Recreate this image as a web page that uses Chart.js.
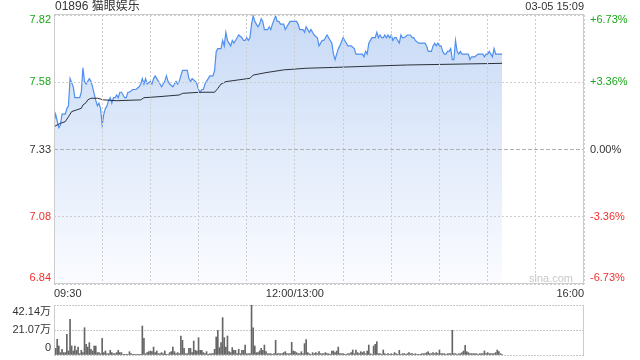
<!DOCTYPE html>
<html>
<head>
<meta charset="utf-8">
<script src="https://cdn.jsdelivr.net/npm/chart.js@4.4.1/dist/chart.umd.min.js"></script>
<style>
  html, body { margin: 0; padding: 0; background: #fff; }
  #wrap { position: relative; width: 640px; height: 360px; }
  #price { position: absolute; left: 0; top: 0; }
  #vol { position: absolute; left: 0; top: 300px; }
</style>
</head>
<body>
<div id="wrap">
  <canvas id="price" width="640" height="300"></canvas>
  <canvas id="vol" width="640" height="60"></canvas>
</div>
<script>
// 01896 intraday, 03-05 — minute chart + volume
const stockTitle = '01896 猫眼娱乐';
const stamp = '03-05 15:09';
const prevClose = 7.33;
const pctTicks = [6.73, 3.36, 0, -3.36, -6.73];
const timeLabels = { 0: '09:30', 150: '12:00/13:00', 330: '16:00' };
const volTicks = [0, 21.07, 42.14];

// minutes since 09:30 (lunch removed) and last price
const minutes = [
  0, 1, 3, 4, 5, 7, 8, 9, 10, 12,
  13, 14, 16, 17, 18, 19, 20, 21, 22, 23,
  24, 26, 27, 28, 29, 30, 31, 32, 33, 34,
  35, 36, 37, 38, 39, 40, 41, 42, 44, 45,
  46, 47, 49, 51, 53, 54, 55, 56, 57, 58,
  60, 61, 62, 63, 64, 65, 66, 67, 68, 69,
  70, 71, 72, 74, 75, 76, 77, 78, 80, 82,
  83, 84, 85, 86, 88, 89, 90, 91, 92, 93,
  94, 95, 97, 99, 100, 101, 102, 104, 105, 106,
  107, 108, 110, 111, 112, 113, 114, 115, 117, 118,
  119, 120, 121, 122, 123, 124, 125, 126, 127, 128,
  129, 130, 131, 133, 134, 135, 136, 138, 139, 140,
  141, 142, 143, 144, 145, 146, 147, 149, 151, 152,
  153, 154, 155, 156, 157, 158, 159, 160, 161, 162,
  164, 165, 166, 167, 168, 169, 170, 171, 172, 173,
  174, 175, 176, 177, 178, 180, 181, 183, 185, 187,
  188, 190, 191, 192, 193, 194, 195, 196, 198, 200,
  201, 202, 203, 204, 205, 206, 207, 208, 209, 210,
  211, 212, 213, 214, 215, 216, 217, 218, 220, 222,
  223, 224, 225, 227, 229, 231, 232, 233, 235, 236,
  237, 238, 239, 240, 241, 242, 243, 244, 245, 246,
  247, 248, 249, 250, 251, 252, 253, 254, 255, 257,
  258, 259, 260, 262, 264, 266, 267, 268, 269, 270,
  271, 272, 273, 274, 275, 276, 279
];
const price = [
  7.43, 7.46, 7.41, 7.42, 7.46, 7.46, 7.48, 7.49, 7.59, 7.56,
  7.52, 7.52, 7.52, 7.54, 7.63, 7.58, 7.57, 7.58, 7.59, 7.58,
  7.56, 7.51, 7.49, 7.50, 7.48, 7.42, 7.46, 7.48, 7.49, 7.51,
  7.52, 7.50, 7.52, 7.52, 7.53, 7.52, 7.54, 7.54, 7.52, 7.52,
  7.54, 7.54, 7.55, 7.55, 7.56, 7.57, 7.59, 7.57, 7.59, 7.57,
  7.58, 7.57, 7.59, 7.60, 7.59, 7.58, 7.57, 7.56, 7.57, 7.58,
  7.60, 7.58, 7.57, 7.56, 7.57, 7.58, 7.57, 7.58, 7.62, 7.62,
  7.62, 7.59, 7.58, 7.59, 7.58, 7.57, 7.55, 7.54, 7.55, 7.55,
  7.57, 7.58, 7.60, 7.60, 7.62, 7.69, 7.70, 7.70, 7.73, 7.71,
  7.76, 7.73, 7.71, 7.73, 7.72, 7.73, 7.74, 7.75, 7.74, 7.73,
  7.73, 7.74, 7.73, 7.74, 7.79, 7.82, 7.80, 7.79, 7.78, 7.79,
  7.81, 7.80, 7.77, 7.77, 7.78, 7.77, 7.79, 7.82, 7.80, 7.80,
  7.79, 7.79, 7.79, 7.77, 7.78, 7.79, 7.80, 7.80, 7.80, 7.79,
  7.77, 7.77, 7.77, 7.76, 7.78, 7.77, 7.76, 7.77, 7.76, 7.75,
  7.74, 7.71, 7.72, 7.73, 7.73, 7.74, 7.75, 7.74, 7.73, 7.72,
  7.68, 7.66, 7.68, 7.70, 7.71, 7.74, 7.73, 7.71, 7.71, 7.70,
  7.68, 7.68, 7.68, 7.68, 7.67, 7.69, 7.68, 7.72, 7.74, 7.74,
  7.76, 7.74, 7.75, 7.74, 7.74, 7.75, 7.74, 7.75, 7.74, 7.75,
  7.73, 7.74, 7.74, 7.73, 7.72, 7.75, 7.74, 7.74, 7.75, 7.75,
  7.74, 7.74, 7.73, 7.72, 7.72, 7.72, 7.71, 7.69, 7.69, 7.71,
  7.72, 7.71, 7.72, 7.71, 7.71, 7.69, 7.68, 7.68, 7.69, 7.69,
  7.70, 7.66, 7.66, 7.73, 7.69, 7.68, 7.69, 7.68, 7.68, 7.68,
  7.68, 7.66, 7.67, 7.67, 7.68, 7.68, 7.68, 7.67, 7.68, 7.68,
  7.69, 7.68, 7.67, 7.70, 7.68, 7.68, 7.68
];

// average price line
const avgMinutes = [0, 4, 7, 9, 11, 14, 17, 18, 20, 21, 23, 27, 31, 39, 54, 56, 66, 78, 80, 91,
  100, 102, 104, 107, 122, 124, 132, 143, 157, 174, 199, 220, 240, 279];
const avgPrice = [7.414, 7.426, 7.432, 7.450, 7.469, 7.475, 7.481, 7.493, 7.502, 7.512,
  7.518, 7.518, 7.512, 7.509, 7.512, 7.520, 7.524, 7.530, 7.536, 7.540,
  7.540, 7.554, 7.570, 7.579, 7.591, 7.603, 7.612, 7.622, 7.628, 7.631,
  7.636, 7.640, 7.642, 7.646];

// volume per minute, in 万 shares, from 09:30
const volume = [
  16.0, 5.6, 13.2, 7.6, 2.0, 4.8, 2.0, 2.0, 17.4, 3.4,
  30.1, 7.6, 3.4, 7.6, 3.9, 6.7, 1.1, 3.9, 2.0, 23.0,
  9.0, 6.7, 10.4, 4.8, 3.4, 7.6, 7.6, 2.0, 2.0, 1.1,
  14.0, 2.0, 3.4, 1.1, 1.1, 3.9, 2.0, 1.1, 1.1, 2.0,
  3.9, 2.0, 2.0, 0.6, 0.6, 0.6, 0.6, 2.8, 1.1, 0.6,
  0.6, 0.6, 0.6, 0.6, 0.6, 24.4, 14.0, 1.1, 2.0, 2.8,
  3.4, 2.8, 6.7, 2.0, 3.4, 1.1, 1.1, 2.0, 1.1, 3.4,
  0.6, 0.6, 2.0, 2.8, 6.7, 2.8, 1.1, 2.0, 1.1, 16.0,
  12.4, 5.6, 1.1, 1.1, 5.6, 5.6, 2.0, 11.8, 3.9, 3.4,
  14.6, 3.9, 3.9, 2.0, 1.1, 2.8, 0.6, 1.1, 1.1, 1.1,
  4.8, 15.2, 20.8, 6.2, 10.4, 31.5, 14.6, 6.7, 16.0, 2.8,
  2.0, 6.2, 3.9, 3.9, 1.1, 4.8, 1.1, 3.9, 3.9, 8.4,
  1.1, 1.1, 1.1, 42.14, 23.0, 7.6, 2.0, 2.0, 3.4, 5.6,
  3.9, 8.4, 2.8, 1.1, 1.1, 1.1, 0.6, 1.1, 12.4, 1.1,
  1.1, 1.1, 1.1, 2.0, 2.8, 1.1, 1.1, 1.1, 10.7, 3.4,
  2.8, 2.0, 1.1, 1.1, 2.8, 1.1, 9.6, 12.9, 2.0, 1.1,
  0.6, 2.0, 1.1, 2.0, 1.1, 2.8, 1.1, 1.1, 1.1, 2.0,
  1.1, 1.1, 0.6, 3.4, 3.4, 2.0, 3.4, 6.7, 1.1, 1.1,
  1.1, 0.6, 0.6, 1.1, 1.1, 2.0, 4.2, 1.1, 4.2, 2.0,
  1.1, 2.8, 2.0, 2.8, 1.1, 3.4, 8.4, 1.1, 0.6, 7.6,
  9.0, 11.2, 1.1, 1.1, 0.6, 4.2, 1.1, 0.6, 1.1, 0.6,
  1.1, 0.6, 2.0, 1.1, 0.6, 3.9, 0.6, 1.1, 1.1, 0.6,
  1.1, 2.0, 1.1, 1.1, 0.6, 1.1, 0.6, 0.6, 0.6, 1.1,
  1.1, 1.1, 2.0, 2.8, 1.1, 1.1, 2.0, 1.1, 2.0, 1.1,
  4.2, 1.1, 1.1, 1.1, 0.6, 1.1, 1.1, 1.1, 20.8, 1.1,
  1.1, 0.6, 1.1, 1.1, 2.0, 3.4, 8.1, 2.8, 2.0, 1.1,
  1.1, 1.1, 1.1, 1.1, 0.6, 1.1, 1.1, 1.1, 3.4, 1.1,
  2.0, 1.1, 1.1, 1.1, 1.1, 2.0, 4.2, 2.8, 1.1, 0.6
];

const FONT = '"Liberation Sans", Arial, "Noto Sans CJK SC", sans-serif';
const GREEN = '#1ba61b', RED = '#f0302c', DARK = '#333333', GRIDC = '#cdcdcd', FRAME = '#cccccc';
const yTicks = pctTicks.map(p => prevClose * (1 + p / 100));

const priceDeco = {
  id: 'priceDeco',
  afterDraw(chart) {
    const { ctx, chartArea: a } = chart;
    const ys = chart.scales.y;
    ctx.save();
    ctx.strokeStyle = FRAME;
    ctx.lineWidth = 1;
    ctx.strokeRect(a.left + 0.5, a.top - 0.5, a.right - a.left - 1, a.bottom - a.top);
    ctx.font = '11px ' + FONT;
    ctx.textBaseline = 'middle';
    yTicks.forEach((v, i) => {
      let py = ys.getPixelForValue(v);
      if (i === 0) py += 5;
      else if (i === yTicks.length - 1) py -= 6;
      const p = pctTicks[i];
      ctx.fillStyle = p > 0 ? GREEN : p < 0 ? RED : DARK;
      ctx.textAlign = 'right';
      ctx.fillText(v.toFixed(2), a.left - 3, py);
      ctx.textAlign = 'left';
      ctx.fillText((p > 0 ? '+' : '') + p.toFixed(2) + '%', a.right + 6, py);
    });
    ctx.fillStyle = '#c8c8c8';
    ctx.textAlign = 'right';
    ctx.fillText('sina.com', a.right - 11, a.bottom - 5);
    ctx.fillStyle = DARK;
    ctx.textAlign = 'left';
    ctx.font = '12px ' + FONT;
    ctx.fillText(stockTitle, a.left + 1, 7);
    ctx.textAlign = 'right';
    ctx.font = '11px ' + FONT;
    ctx.fillText(stamp, a.right, 7);
    ctx.restore();
  }
};

new Chart(document.getElementById('price'), {
  type: 'line',
  data: {
    datasets: [
      {
        data: avgMinutes.map((m, i) => ({ x: m, y: avgPrice[i] })),
        borderColor: '#2a313c', borderWidth: 1, pointRadius: 0, fill: false
      },
      {
        data: minutes.map((m, i) => ({ x: m, y: price[i] })),
        borderColor: '#4e8ff0', borderWidth: 1.2, pointRadius: 0, fill: 'start',
        backgroundColor: c => {
          const a = c.chart.chartArea;
          if (!a) return '#dbe7f9';
          const g = c.chart.ctx.createLinearGradient(0, a.top, 0, a.bottom);
          g.addColorStop(0, '#c8daf6');
          g.addColorStop(1, '#fbfcff');
          return g;
        }
      }
    ]
  },
  options: {
    responsive: false, animation: false,
    layout: { padding: { top: 15, right: 56, left: 0, bottom: 0 } },
    plugins: { legend: { display: false }, tooltip: { enabled: false } },
    scales: {
      x: {
        type: 'linear', min: 0, max: 330, offset: false,
        ticks: {
          stepSize: 30, autoSkip: false, maxRotation: 0, align: 'inner', padding: 3,
          color: DARK, font: { family: FONT, size: 11 },
          callback: v => timeLabels[v] || ''
        },
        grid: { color: GRIDC, drawTicks: false, z: 1 },
        border: { display: false, dash: [2, 2] },
        afterFit: s => { s.height = 16; }
      },
      y: {
        type: 'linear', min: yTicks[yTicks.length - 1], max: yTicks[0],
        afterBuildTicks: s => { s.ticks = yTicks.map(v => ({ value: v })); },
        afterFit: s => { s.width = 54; },
        ticks: { display: false },
        grid: { drawTicks: false, z: 1, color: c => c.tick && Math.abs(c.tick.value - prevClose) < 1e-6 ? '#b0b0b0' : GRIDC },
        border: { display: false, dash: c => c.tick && Math.abs(c.tick.value - prevClose) < 1e-6 ? [4, 2] : [2, 2] }
      }
    }
  },
  plugins: [priceDeco]
});

const volDeco = {
  id: 'volDeco',
  afterDraw(chart) {
    const { ctx, chartArea: a } = chart;
    const ys = chart.scales.y;
    ctx.save();
    ctx.strokeStyle = FRAME;
    ctx.lineWidth = 1;
    ctx.beginPath();
    ctx.moveTo(a.left + 0.5, a.top); ctx.lineTo(a.left + 0.5, a.bottom);
    ctx.moveTo(a.right - 0.5, a.top); ctx.lineTo(a.right - 0.5, a.bottom);
    ctx.stroke();
    ctx.font = '11px ' + FONT;
    ctx.fillStyle = DARK;
    ctx.textAlign = 'right';
    ctx.textBaseline = 'middle';
    volTicks.forEach((v, i) => {
      let py = ys.getPixelForValue(v);
      if (i === 0) py -= 7;
      else if (i === volTicks.length - 1) py += 7;
      ctx.fillText(v === 0 ? '0' : v.toFixed(2) + '万', a.left - 3, py);
    });
    ctx.restore();
  }
};

new Chart(document.getElementById('vol'), {
  type: 'bar',
  data: {
    datasets: [{
      data: volume.map((v, i) => ({ x: i, y: v })),
      backgroundColor: '#666666', borderWidth: 0, barThickness: 1
    }]
  },
  options: {
    responsive: false, animation: false,
    layout: { padding: { top: 5, right: 56, left: 0, bottom: 5 } },
    plugins: { legend: { display: false }, tooltip: { enabled: false } },
    scales: {
      x: { type: 'linear', min: 0, max: 330, offset: false, display: false },
      y: {
        type: 'linear', min: 0, max: volTicks[volTicks.length - 1],
        afterBuildTicks: s => { s.ticks = volTicks.map(v => ({ value: v })); },
        afterFit: s => { s.width = 54; },
        ticks: { display: false },
        grid: { drawTicks: false, color: '#c8c8c8' },
        border: { display: false, dash: [2, 1] }
      }
    }
  },
  plugins: [volDeco]
});
</script>
</body>
</html>
